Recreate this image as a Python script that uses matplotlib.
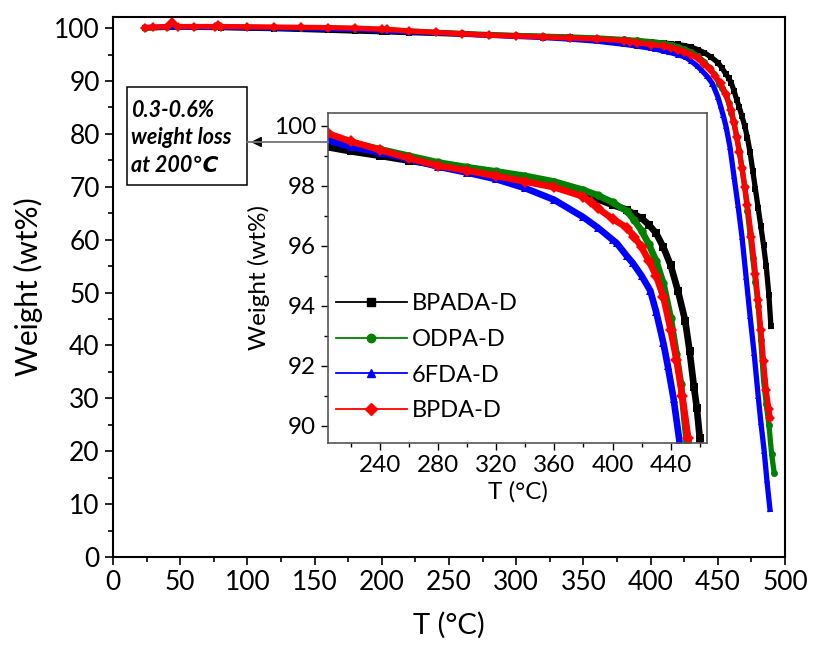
import numpy as np
import matplotlib
matplotlib.use('Agg')
import matplotlib.pyplot as plt
from matplotlib.lines import Line2D
from matplotlib.ticker import MultipleLocator

plt.rcParams['font.family'] = ['Lato', 'DejaVu Sans']

# Step 1: data
labels = ['BPADA-D', 'ODPA-D', '6FDA-D', 'BPDA-D']
colors = ['#000000', '#008000', '#0000FF', '#FF0000']
markers = ['s', 'o', '^', 'D']

T_bpada = [24, 40, 60, 80, 100, 120, 140, 160, 180, 200, 204, 220, 240, 260, 280, 300, 320, 340, 360,
           380, 390, 400, 410, 415, 420, 425, 430, 435, 440, 445, 450, 453, 456, 458, 460, 462, 464,
           466, 468, 470, 472, 474, 476, 478, 480, 482, 484, 486, 488, 489.5]
W_bpada = [100.0, 100.15, 100.15, 100.1, 100.0, 99.9, 99.75, 99.6, 99.45, 99.32, 99.29, 99.15, 99.0,
           98.84, 98.69, 98.55, 98.4, 98.25, 98.03, 97.73, 97.55, 97.36, 97.2, 97.05, 96.92, 96.7, 96.42,
           95.95, 95.35, 94.5, 93.5, 92.5, 91.3, 90.6, 89.6, 88.2, 86.5, 85.0, 83.3, 81.5, 79.3, 76.5,
           73.0, 69.5, 66.0, 62.5, 59.0, 55.0, 49.5, 43.6]

T_odpa = [24, 40, 60, 80, 100, 120, 140, 160, 180, 200, 204, 220, 240, 260, 280, 300, 320, 340, 360,
          380, 390, 400, 410, 415, 420, 425, 430, 435, 440, 444, 447, 451, 453, 456, 458, 460, 462, 464,
          466, 468, 470, 472, 474, 476, 478, 480, 482, 484, 486, 488, 490, 492]
W_odpa = [100.05, 100.2, 100.2, 100.2, 100.15, 100.1, 100.05, 99.98, 99.9, 99.75, 99.7, 99.45, 99.22,
          99.0, 98.78, 98.62, 98.48, 98.33, 98.14, 97.86, 97.68, 97.45, 97.15, 96.85, 96.5, 96.05, 95.5,
          94.75, 93.6, 92.4, 91.4, 89.5, 88.6, 87.3, 85.9, 84.0, 82.0, 79.5, 76.8, 73.5, 70.0, 65.5,
          61.0, 56.5, 52.0, 47.5, 41.0, 33.5, 29.0, 25.0, 19.5, 15.8]

T_6fda = [24, 40, 60, 80, 100, 120, 140, 160, 180, 200, 204, 220, 240, 260, 280, 300, 320, 340, 360,
          380, 390, 400, 403, 410, 414, 420, 426, 430, 435, 438, 442, 446, 450, 452, 454, 456, 459, 462,
          465, 468, 471, 474, 477, 480, 482, 484.5, 486.5, 488.8]
W_6fda = [100.15, 100.2, 100.2, 100.15, 100.1, 100.0, 99.95, 99.85, 99.75, 99.58, 99.52, 99.3, 99.11,
          98.89, 98.64, 98.44, 98.22, 97.92, 97.53, 96.95, 96.6, 96.2, 96.08, 95.65, 95.42, 95.0, 94.5,
          93.8, 92.75, 92.0, 90.9, 89.5, 87.0, 85.3, 83.5, 81.5, 77.6, 72.0, 66.5, 60.5, 53.0, 45.5, 38.5,
          30.5, 25.5, 20.0, 14.5, 9.0]

T_bpda = [24, 30, 40, 44, 48, 60, 76, 78, 80, 100, 120, 140, 160, 180, 200, 204, 220, 240, 260, 280,
          300, 320, 340, 360, 380, 385, 390, 400, 410, 415, 420, 425, 430, 435, 440, 444, 448, 452, 456,
          460, 462, 464, 466, 468, 470, 472, 475, 478, 480, 482, 484, 486, 488, 489]
W_bpda = [100.1, 100.15, 100.3, 101.2, 100.3, 100.3, 100.3, 100.6, 100.3, 100.25, 100.2, 100.15, 100.1,
          100.0, 99.8, 99.75, 99.48, 99.2, 98.92, 98.67, 98.51, 98.33, 98.14, 97.95, 97.64, 97.45, 97.25,
          96.9, 96.6, 96.3, 95.95, 95.5, 95.0, 94.3, 93.2, 92.2, 91.0, 89.6, 87.5, 84.5, 82.2, 79.5,
          76.5, 73.5, 70.0, 66.5, 60.5, 53.5, 48.5, 43.0, 37.0, 31.5, 28.0, 26.2]

series_T = [T_bpada, T_odpa, T_6fda, T_bpda]
series_W = [W_bpada, W_odpa, W_6fda, W_bpda]

# Step 2: main axes
fig = plt.figure(figsize=(8.13, 6.52), dpi=100)
ax = fig.add_axes([0.139, 0.1457, 0.8266, 0.8282])
for t, w, c, m in zip(series_T, series_W, colors, markers):
    ax.plot(t, w, color=c, lw=3.8, marker=m, markersize=5, markeredgewidth=0)
ax.set_xlim(0, 500)
ax.set_ylim(0, 102.1)
ax.xaxis.set_major_locator(MultipleLocator(50))
ax.xaxis.set_minor_locator(MultipleLocator(25))
ax.yaxis.set_major_locator(MultipleLocator(10))
ax.yaxis.set_minor_locator(MultipleLocator(5))
ax.tick_params(which='both', direction='out', top=False, right=False, width=1.2, labelsize=19)
ax.tick_params(which='major', length=6)
ax.tick_params(which='minor', length=3.5)
for s in ax.spines.values():
    s.set_linewidth(1.5)
ax.set_xlabel('T (°C)', fontsize=21, labelpad=12)
ax.set_ylabel('Weight (wt%)', fontsize=21.5, labelpad=8)

# Step 3: inset zoom on 200-465 C
ins = fig.add_axes([0.4034, 0.3206, 0.4662, 0.5061])
for t, w, c, m in zip(series_T, series_W, colors, markers):
    ins.plot(t, w, color=c, lw=4.8, marker=m, markersize=6, markeredgewidth=0)
ins.set_xlim(204.2, 465)
ins.set_ylim(89.42, 100.43)
ins.xaxis.set_major_locator(MultipleLocator(40))
ins.xaxis.set_minor_locator(MultipleLocator(20))
ins.yaxis.set_major_locator(MultipleLocator(2))
ins.yaxis.set_minor_locator(MultipleLocator(1))
ins.tick_params(which='both', direction='out', top=False, right=False, width=1.0, labelsize=17.5)
ins.tick_params(which='major', length=5)
ins.tick_params(which='minor', length=3)
for s in ins.spines.values():
    s.set_linewidth(1.2)
    s.set_color('#555555')
ins.set_xlabel('T (°C)', fontsize=17.5, labelpad=4)
ins.set_ylabel('Weight (wt%)', fontsize=17.5, labelpad=3)

handles = [Line2D([0], [0], color=c, lw=1.3, marker=m, markersize=6) for c, m in zip(colors, markers)]
ins.legend(handles, labels, loc='lower left', bbox_to_anchor=(-0.01, 0.03), frameon=False,
           fontsize=17, handlelength=3.0, handletextpad=0.2, labelspacing=0.62,
           borderaxespad=0.2, borderpad=0.3)

# Step 4: annotation box and arrow
box = plt.Rectangle((127 / 813, 1 - 185 / 652), 120 / 813, 98 / 652, transform=fig.transFigure,
                    fill=False, edgecolor='black', lw=1.1)
fig.patches.append(box)
fig.text(131 / 813, 1 - 138 / 652, '0.3-0.6%\nweight loss\nat 200\u2103', fontsize=15.5,
         fontweight='bold', fontstyle='italic', va='center', ha='left', linespacing=1.4,
         family=['Lato', 'DejaVu Sans'])
ay = 1 - 142 / 652
fig.add_artist(plt.Line2D([247 / 813, 328 / 813], [ay, ay], transform=fig.transFigure,
                          color='0.45', lw=1.3))
ax.annotate('', xy=(248 / 813, ay), xycoords='figure fraction', xytext=(262 / 813, ay),
            textcoords='figure fraction',
            arrowprops=dict(arrowstyle='-|>', color='black', lw=1.0, mutation_scale=16))

plt.savefig('out.png', dpi=100)
